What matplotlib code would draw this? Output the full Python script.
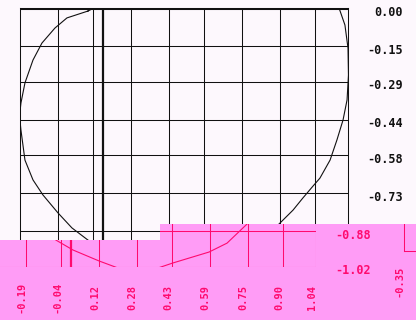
import matplotlib
matplotlib.use("Agg")
import matplotlib.pyplot as plt
from matplotlib.patches import Polygon, Rectangle
from matplotlib.transforms import Bbox

# ---------------- data ----------------
curve_x = [-0.062, -0.151, -0.202, -0.257, -0.295, -0.329, -0.346, -0.352, -0.346, -0.329,
           -0.295, -0.253, -0.189, -0.130, -0.062, 0.010, 0.120, 0.201, 0.286, 0.370,
           0.434, 0.587, 0.663, 0.743, 0.807, 0.849, 0.892, 0.921, 0.964, 0.993,
           1.019, 1.036, 1.042, 1.040, 1.027, 1.002, 0.943, 0.794, 0.582, 0.370,
           0.159, 0.031]
curve_y = [-0.012, -0.039, -0.079, -0.138, -0.205, -0.295, -0.374, -0.425, -0.481, -0.599,
           -0.677, -0.736, -0.807, -0.866, -0.914, -0.953, -0.996, -1.024, -1.036, -1.024,
           -1.004, -0.961, -0.926, -0.855, -0.796, -0.748, -0.701, -0.670, -0.599, -0.520,
           -0.441, -0.362, -0.264, -0.158, -0.067, 0.000, 0.039, 0.087, 0.110, 0.110,
           0.079, 0.032]
x_tick_labels = ['-0.35', '-0.19', '-0.04', '0.12', '0.28', '0.43', '0.59', '0.75', '0.90', '1.04']
y_tick_labels = ['0.00', '-0.15', '-0.29', '-0.44', '-0.58', '-0.73', '-0.88', '-1.02']
x_ticks = [float(s) for s in x_tick_labels]
y_ticks = [float(s) for s in y_tick_labels]

# ---------------- style ----------------
W, H, DPI = 416, 320, 100
BG = '#fdf8fd'
INK = '#111111'
PINK = '#ff9cf6'
MAG = '#ff0a6e'
MONO = 'DejaVu Sans Mono'

fig = plt.figure(figsize=(W / DPI, H / DPI), dpi=DPI, facecolor=BG)

AX_L, AX_T, AX_R, AX_B = 20, 8, 348, 267


def rect_px(left, top, right, bottom):
    return [left / W, 1 - bottom / H, (right - left) / W, (bottom - top) / H]


def panel(ax, ink, clip_path=None, clip_box=None, xlabels=True):
    ax.set_xlim(x_ticks[0], x_ticks[-1])
    ax.set_ylim(y_ticks[-1], y_ticks[0])
    ax.set_xticks([])
    ax.set_yticks([])
    ax.set_facecolor('none')
    arts = []
    for v in x_ticks[1:-1]:
        arts.append(ax.axvline(v, color=ink, lw=0.75))
    for v in y_ticks[1:-1]:
        arts.append(ax.axhline(v, color=ink, lw=0.75))
    arts.append(ax.axvline(0, color=ink, lw=1.6))
    arts.append(ax.axhline(0, color=ink, lw=2.2))
    arts += ax.plot(curve_x + curve_x[:1], curve_y + curve_y[:1], color=ink, lw=0.8)
    for sp in ax.spines.values():
        sp.set_color(ink)
        sp.set_linewidth(0.75)
        arts.append(sp)
    texts = []
    for v, lab in zip(y_ticks, y_tick_labels):
        texts.append(ax.annotate(lab, xy=(1, v), xycoords=('axes fraction', 'data'),
                                 xytext=(55, -4), textcoords='offset pixels',
                                 ha='right', va='center', fontsize=8.5, family=MONO,
                                 weight='bold', color=ink, annotation_clip=False))
    if xlabels:
        for v, lab in zip(x_ticks, x_tick_labels):
            texts.append(ax.annotate(lab, xy=(v, 0), xycoords=('data', 'axes fraction'),
                                     xytext=(-4, -30), textcoords='offset pixels',
                                     rotation=90, ha='center', va='center', fontsize=7.5,
                                     family=MONO, weight='bold', color=ink,
                                     annotation_clip=False))
    if clip_path is not None:
        for a in arts:
            a.set_clip_path(clip_path)
    if clip_box is not None:
        for t in texts:
            t.set_clip_on(True)
            t.set_clip_box(clip_box)
    return texts


# main chart
ax1 = fig.add_axes(rect_px(AX_L, AX_T, AX_R, AX_B), zorder=0)
ax1_texts = panel(ax1, INK, xlabels=False)

# glitched band (corrupted image rows, shifted and tinted)
band = [(0, 240), (160, 240), (160, 224), (W, 224), (W, H), (0, H)]
poly = Polygon([(x / W, 1 - y / H) for x, y in band], closed=True,
               transform=fig.transFigure, facecolor=PINK, edgecolor='none', zorder=1)
fig.add_artist(poly)

SHIFT = 32
ax2 = fig.add_axes(rect_px(AX_L - SHIFT, AX_T, AX_R - SHIFT, AX_B), zorder=2)
box2 = Bbox([[0, 0], [W, H - 224]])
panel(ax2, MAG, clip_path=poly, clip_box=box2)

WRAP = W - SHIFT
ax3 = fig.add_axes(rect_px(AX_L + WRAP, AX_T - 16, AX_R + WRAP, AX_B - 16), zorder=2)
wrap_rect = Rectangle((WRAP / W, 0), SHIFT / W, (H - 224) / H, transform=fig.transFigure)
box3 = Bbox([[WRAP, 0], [W, H - 224]])
panel(ax3, MAG, clip_path=wrap_rect, clip_box=box3)

fig.savefig('out.png', dpi=DPI, facecolor=BG)
